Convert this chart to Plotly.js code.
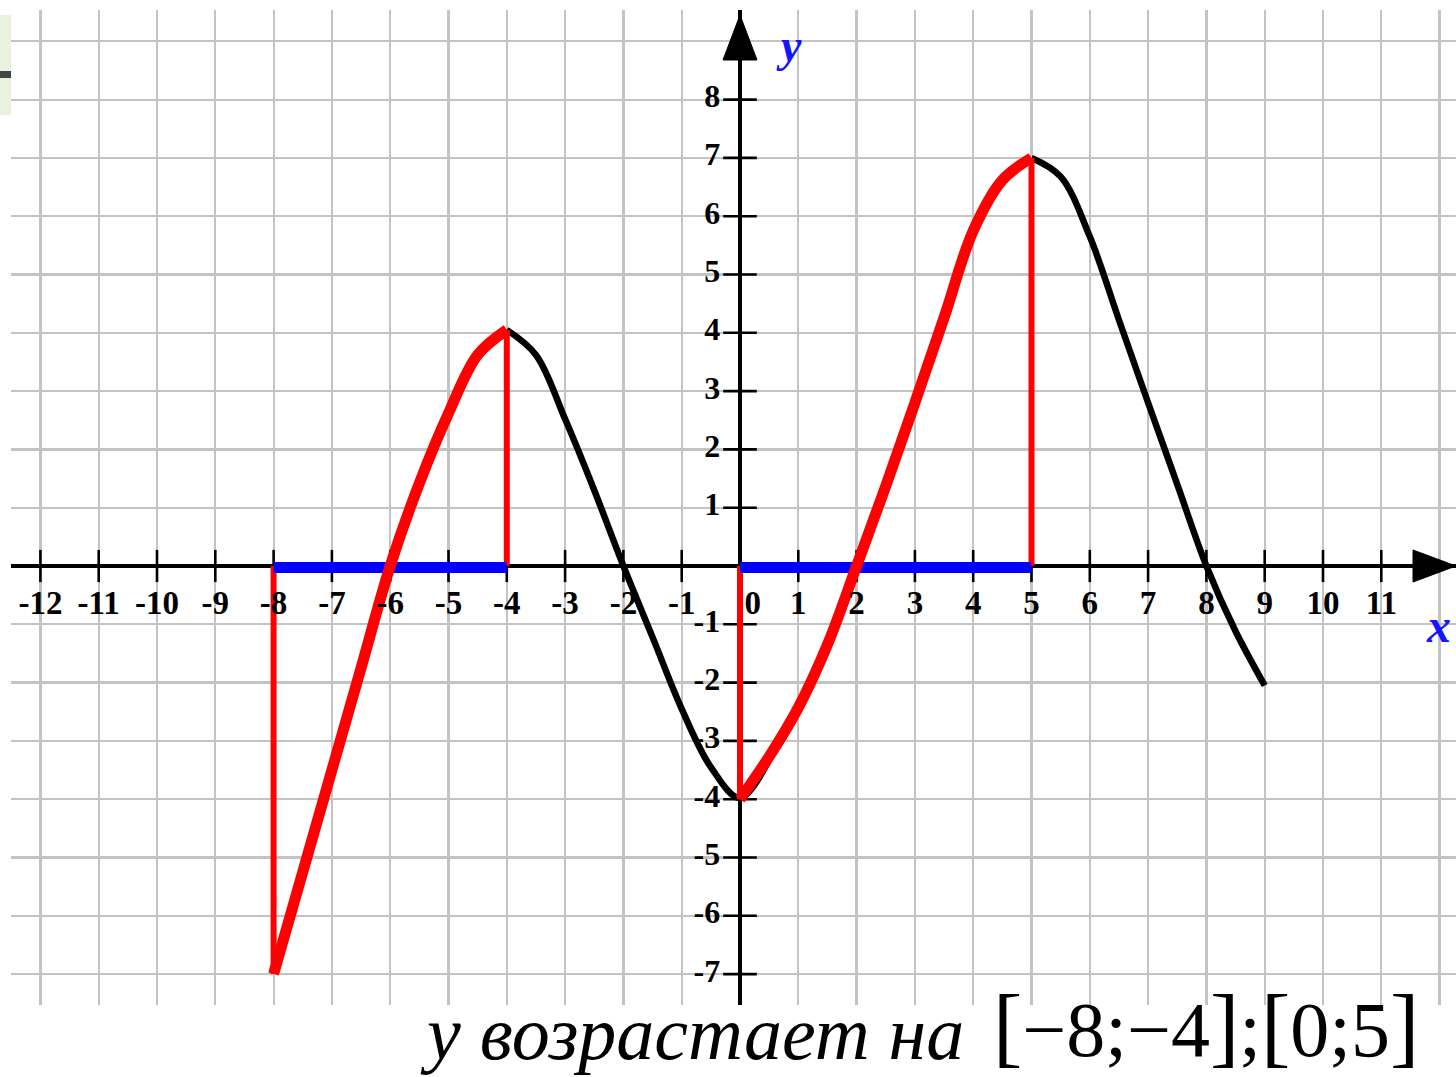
<!DOCTYPE html>
<html>
<head>
<meta charset="utf-8">
<script src="https://cdn.plot.ly/plotly-3.0.1.min.js"></script>
<style>
  html, body { margin: 0; padding: 0; background: #ffffff; }
  #chart { width: 1456px; height: 1077px; }
</style>
</head>
<body>
<div id="chart"></div>
<script>
// ---- data ----
const xTickVals = [-12, -11, -10, -9, -8, -7, -6, -5, -4, -3, -2, -1, 0, 1, 2, 3, 4, 5, 6, 7, 8, 9, 10, 11];
const xTickLabels = ['-12', '-11', '-10', '-9', '-8', '-7', '-6', '-5', '-4', '-3', '-2', '-1', '0', '1', '2', '3', '4', '5', '6', '7', '8', '9', '10', '11'];
const yTickVals = [8, 7, 6, 5, 4, 3, 2, 1, -1, -2, -3, -4, -5, -6, -7];
const yTickLabels = ['8', '7', '6', '5', '4', '3', '2', '1', '-1', '-2', '-3', '-4', '-5', '-6', '-7'];

// increasing part 1 (red)
const redLeftX = [-8, -7.5, -7, -6.5, -6, -5.5, -5, -4.5, -4];
const redLeftY = [-7, -5.25, -3.5, -1.75, 0, 1.42, 2.62, 3.62, 4.05];
// decreasing part (black), runs on a little under the red near the minimum
const blackMidX = [-4, -3.5, -3, -2.5, -2, -1.5, -1, -0.5, 0, 0.5];
const blackMidY = [4.05, 3.62, 2.52, 1.3, 0, -1.22, -2.45, -3.45, -3.98, -3.32];
// increasing part 2 (red)
const redRightX = [0, 0.5, 1, 1.5, 2, 2.5, 3, 3.5, 4, 4.5, 5];
const redRightY = [-4, -3.27, -2.43, -1.35, 0, 1.37, 2.8, 4.26, 5.75, 6.62, 7];
// decreasing tail (black)
const blackRightX = [5, 5.5, 6, 6.5, 7, 7.5, 8, 8.5, 9];
const blackRightY = [7, 6.68, 5.65, 4.22, 2.8, 1.4, 0, -1.12, -2.05];

// intervals where y increases (blue) and the red drop lines
const incStart = [-8, 0];
const incEnd = [-4, 5];
const dropX = [-8, -4, 0, 5];
const dropY = [-7, 4.05, -4, 7];

const captionItalic = 'y возрастает на';
const captionMath = ['[', '−8;−4', ']', ';', '[', '0;5', ']'];

// ---- geometry ----
const PX = 58.3;                 // pixels per unit
const W = 1456, H = 1077;
const mL = 11, mR = 0, mT = 10, mB = 72;
const x0px = 740, y0px = 566;     // page pixel of the origin
const xRange = [(mL - x0px) / PX, (W - mR - x0px) / PX];
const yRange = [(y0px - (H - mB)) / PX, (y0px - mT) / PX];
const plotW = W - mL - mR, plotH = H - mT - mB;

const serif = 'Liberation Serif, Times New Roman, serif';
const traces = [];

// tick marks on the axes
traces.push({
  x: xTickVals, y: xTickVals.map(() => 0), mode: 'markers', type: 'scatter',
  marker: { symbol: 'line-ns', size: 23, line: { color: '#000', width: 2.6 } },
  hoverinfo: 'skip', showlegend: false
});
traces.push({
  x: yTickVals.map(() => 0), y: yTickVals, mode: 'markers', type: 'scatter',
  marker: { symbol: 'line-ew', size: 24, line: { color: '#000', width: 2.6 } },
  hoverinfo: 'skip', showlegend: false
});

// black graph
traces.push({ x: blackMidX, y: blackMidY, mode: 'lines', type: 'scatter',
  line: { color: '#000', width: 6.5, shape: 'spline', smoothing: 1 }, hoverinfo: 'skip', showlegend: false });
traces.push({ x: blackRightX, y: blackRightY, mode: 'lines', type: 'scatter',
  line: { color: '#000', width: 6.5, shape: 'spline', smoothing: 1 }, hoverinfo: 'skip', showlegend: false });

// red drop lines
for (let i = 0; i < dropX.length; i++) {
  traces.push({ x: [dropX[i], dropX[i]], y: [0, dropY[i]], mode: 'lines', type: 'scatter',
    line: { color: '#ff0000', width: 6 }, hoverinfo: 'skip', showlegend: false });
}

// blue intervals on the x axis
for (let i = 0; i < incStart.length; i++) {
  traces.push({ x: [incStart[i], incEnd[i]], y: [-0.025, -0.025], mode: 'lines', type: 'scatter',
    line: { color: '#0000ff', width: 11 }, hoverinfo: 'skip', showlegend: false });
}

// red increasing parts
traces.push({ x: redLeftX, y: redLeftY, mode: 'lines', type: 'scatter',
  line: { color: '#ff0000', width: 11, shape: 'spline', smoothing: 1 }, hoverinfo: 'skip', showlegend: false });
traces.push({ x: redRightX, y: redRightY, mode: 'lines', type: 'scatter',
  line: { color: '#ff0000', width: 11, shape: 'spline', smoothing: 1 }, hoverinfo: 'skip', showlegend: false });

// tick labels
traces.push({
  x: xTickVals.map(v => (v === 0 ? v + 0.22 : v)), y: xTickVals.map(() => -0.68),
  text: xTickLabels, mode: 'text', type: 'scatter', textposition: 'middle center',
  textfont: { family: serif, size: 33, color: '#000', weight: 'bold' },
  hoverinfo: 'skip', showlegend: false, cliponaxis: false
});
traces.push({
  x: yTickVals.map(() => -0.34), y: yTickVals.map(v => v + 0.01),
  text: yTickLabels, mode: 'text', type: 'scatter', textposition: 'middle left',
  textfont: { family: serif, size: 32, color: '#000', weight: 'bold' },
  hoverinfo: 'skip', showlegend: false, cliponaxis: false
});

const bracket = s => '<span style="font-size:88px">' + s + '</span>';
const mathText = captionMath.map(s => (s === '[' || s === ']') ? bracket(s) : s).join('');

const layout = {
  width: W, height: H,
  margin: { l: mL, r: mR, t: mT, b: mB, pad: 0 },
  paper_bgcolor: '#ffffff', plot_bgcolor: '#ffffff',
  showlegend: false,
  hovermode: false,
  xaxis: {
    range: xRange, tick0: 0, dtick: 1, showgrid: true, gridcolor: '#c3c3c3', gridwidth: 2.2,
    zeroline: true, zerolinecolor: '#000', zerolinewidth: 4,
    showticklabels: false, ticks: '', showline: false, fixedrange: true
  },
  yaxis: {
    range: yRange, tick0: 0, dtick: 1, showgrid: true, gridcolor: '#c3c3c3', gridwidth: 2.2,
    zeroline: true, zerolinecolor: '#000', zerolinewidth: 4,
    showticklabels: false, ticks: '', showline: false, fixedrange: true
  },
  shapes: [
    // arrow heads
    { type: 'path', xref: 'x', yref: 'y', xsizemode: 'pixel', ysizemode: 'pixel',
      xanchor: 0, yanchor: (y0px - 60) / PX, path: 'M-17,0 L17,0 L0,45 Z',
      fillcolor: '#000', line: { color: '#000', width: 1 } },
    { type: 'path', xref: 'x', yref: 'y', xsizemode: 'pixel', ysizemode: 'pixel',
      xanchor: (1413 - x0px) / PX, yanchor: 0, path: 'M0,-16 L0,16 L43,0 Z',
      fillcolor: '#000', line: { color: '#000', width: 1 } },
    // slide remnant at the top left
    { type: 'rect', xref: 'paper', yref: 'paper', x0: -mL / plotW, x1: 0,
      y0: (1005 - 115) / plotH, y1: (1005 - 15) / plotH, fillcolor: '#e9f1df', line: { width: 0 }, layer: 'above' },
    { type: 'rect', xref: 'paper', yref: 'paper', x0: -mL / plotW, x1: 0,
      y0: (1005 - 78) / plotH, y1: (1005 - 71) / plotH, fillcolor: '#444444', line: { width: 0 }, layer: 'above' }
  ],
  annotations: [
    { xref: 'x', yref: 'y', x: (789 - x0px) / PX, y: (y0px - 45) / PX, text: '<b><i>y</i></b>',
      showarrow: false, font: { family: serif, size: 46, color: '#1414ff' } },
    { xref: 'x', yref: 'y', x: (1438 - x0px) / PX, y: (y0px - 625) / PX, text: '<b><i>x</i></b>',
      showarrow: false, font: { family: serif, size: 48, color: '#1414ff' } },
    { xref: 'paper', yref: 'paper', x: (965 - mL) / plotW, y: (1005 - 1076) / plotH, xanchor: 'right', yanchor: 'bottom',
      borderpad: 0, text: '<i>' + captionItalic + '</i>', showarrow: false, font: { family: serif, size: 76, color: '#000' } },
    { xref: 'paper', yref: 'paper', x: (992 - mL) / plotW, y: (1005 - 1076) / plotH, xanchor: 'left', yanchor: 'bottom',
      borderpad: 0, text: mathText, showarrow: false, font: { family: serif, size: 78, color: '#000' } }
  ]
};

Plotly.newPlot('chart', traces, layout, { staticPlot: true, displayModeBar: false });
</script>
</body>
</html>
